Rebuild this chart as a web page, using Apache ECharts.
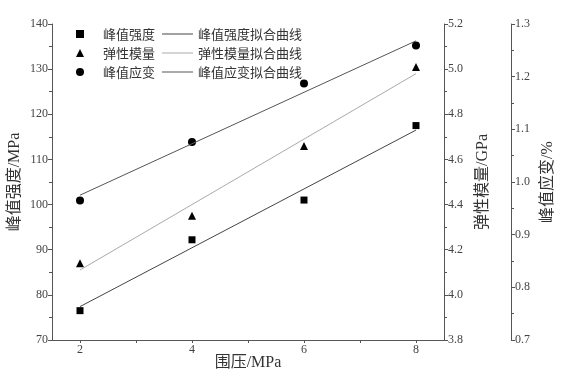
<!DOCTYPE html>
<html>
<head>
<meta charset="utf-8">
<script src="https://cdn.jsdelivr.net/npm/echarts@6/dist/echarts.min.js"></script>
<style>html,body{margin:0;padding:0;background:#fff;}#c{width:570px;height:377px;}</style>
</head>
<body>
<div id="c"></div>
<script>
// ---- data ----
const confiningPressure = [2, 4, 6, 8];
const peakStrength = [76.5, 92.2, 101.0, 117.5];      // MPa
const elasticModulus = [4.14, 4.35, 4.66, 5.01];      // GPa
const peakStrain = [0.965, 1.076, 1.187, 1.259];      // %
const fitX = [2, 8];
const peakStrengthFit = [77.4, 116.5];
const elasticModulusFit = [4.11, 4.98];
const peakStrainFit = [0.975, 1.268];
const xTicks = [2, 3, 4, 5, 6, 7, 8];
const xLabels = [2, 4, 6, 8];
const seriesNames = ['峰值强度', '弹性模量', '峰值应变'];
const fitNames = ['峰值强度拟合曲线', '弹性模量拟合曲线', '峰值应变拟合曲线'];
const seriesSymbols = ['rect', 'triangle', 'circle'];

const pair = (xs, ys) => xs.map((x, i) => [x, ys[i]]);
const serif = "'Liberation Serif', 'Times New Roman', 'Noto Sans CJK SC', serif";
const cjk = "'Noto Sans CJK SC', sans-serif";
const axisCol = '#555';
const labelCol = '#444';

const chart = echarts.init(document.getElementById('c'), null, {renderer: 'canvas'});
const yCommon = {
  type: 'value',
  nameLocation: 'middle',
  nameRotate: 90,
  nameMoveOverlap: false,
  nameTextStyle: {fontFamily: serif, fontSize: 16, color: '#333'},
  axisLine: {show: true, lineStyle: {color: axisCol, width: 1}},
  axisTick: {show: true, inside: false, length: 4, lineStyle: {color: axisCol}},
  minorTick: {show: true, splitNumber: 2, length: 3, lineStyle: {color: axisCol}},
  splitLine: {show: false},
  axisLabel: {fontFamily: serif, fontSize: 12, color: labelCol, margin: 4}
};
const legendText = {fontFamily: cjk, fontSize: 13, color: '#333', lineHeight: 14};
const dot = {color: '#000', opacity: 1};
chart.setOption({
  animation: false,
  backgroundColor: '#fff',
  grid: {left: 52, right: 126, top: 24, bottom: 37, containLabel: false, outerBoundsMode: 'none'},
  legend: [
    {
      data: seriesNames.map((n, i) => ({name: n, icon: seriesSymbols[i]})),
      orient: 'vertical', left: 76, top: 27, padding: 0,
      itemWidth: 8, itemHeight: 8, itemGap: 5,
      textStyle: Object.assign({}, legendText, {padding: [0, 0, 0, 14]})
    },
    {
      data: fitNames.map(n => ({name: n, icon: 'rect'})),
      orient: 'vertical', left: 162, top: 27, padding: 0,
      itemWidth: 31, itemHeight: 1, itemGap: 5,
      textStyle: legendText
    }
  ],
  xAxis: {
    type: 'value', min: 1.5, max: 8.5,
    name: '围压/MPa', nameLocation: 'middle', nameGap: 15, nameMoveOverlap: false,
    nameTextStyle: {fontFamily: serif, fontSize: 16, color: '#333', verticalAlign: 'top'},
    axisLine: {show: true, lineStyle: {color: axisCol}},
    axisTick: {show: true, length: 3, customValues: xTicks, lineStyle: {color: axisCol}},
    axisLabel: {fontFamily: serif, fontSize: 12, color: labelCol, margin: 4, customValues: xLabels},
    splitLine: {show: false}
  },
  yAxis: [
    Object.assign({}, yCommon, {
      position: 'left', min: 70, max: 140, interval: 10,
      name: '峰值强度/MPa', nameGap: 29
    }),
    Object.assign({}, yCommon, {
      position: 'right', offset: 0, min: 3.8, max: 5.2, interval: 0.2,
      name: '弹性模量/GPa', nameGap: 31,
      axisLabel: Object.assign({}, yCommon.axisLabel, {formatter: v => v.toFixed(1)})
    }),
    Object.assign({}, yCommon, {
      position: 'right', offset: 67, min: 0.7, max: 1.3, interval: 0.1,
      name: '峰值应变/%', nameGap: 29,
      axisLabel: Object.assign({}, yCommon.axisLabel, {formatter: v => v.toFixed(1)})
    })
  ],
  series: [
    {name: seriesNames[0], type: 'scatter', yAxisIndex: 0, symbol: 'rect', symbolSize: 7,
     itemStyle: dot, data: pair(confiningPressure, peakStrength)},
    {name: seriesNames[1], type: 'scatter', yAxisIndex: 1, symbol: 'triangle', symbolSize: 8,
     itemStyle: dot, data: pair(confiningPressure, elasticModulus)},
    {name: seriesNames[2], type: 'scatter', yAxisIndex: 2, symbol: 'circle', symbolSize: 8,
     itemStyle: dot, data: pair(confiningPressure, peakStrain)},
    {name: fitNames[0], type: 'line', yAxisIndex: 0, showSymbol: false, symbol: 'none',
     lineStyle: {color: '#444', width: 1}, itemStyle: {color: '#444'}, data: pair(fitX, peakStrengthFit)},
    {name: fitNames[1], type: 'line', yAxisIndex: 1, showSymbol: false, symbol: 'none',
     lineStyle: {color: '#aaa', width: 1}, itemStyle: {color: '#aaa'}, data: pair(fitX, elasticModulusFit)},
    {name: fitNames[2], type: 'line', yAxisIndex: 2, showSymbol: false, symbol: 'none',
     lineStyle: {color: '#555', width: 1}, itemStyle: {color: '#555'}, data: pair(fitX, peakStrainFit)}
  ]
});
</script>
</body>
</html>
